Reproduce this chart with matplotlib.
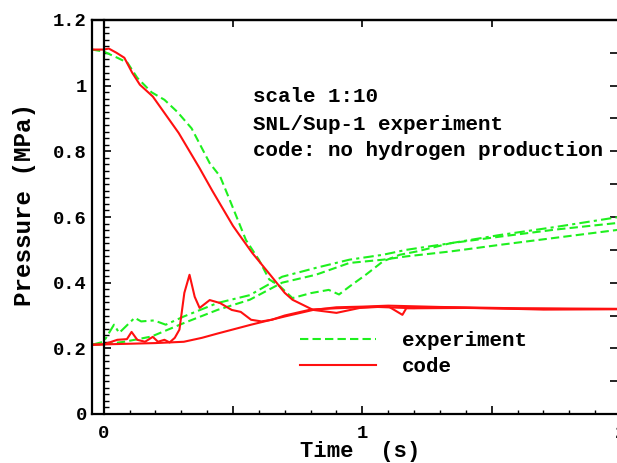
import matplotlib
matplotlib.use("Agg")
import matplotlib.pyplot as plt
from matplotlib.ticker import FixedLocator, MultipleLocator, FuncFormatter
from matplotlib.lines import Line2D

# ---- data (time in s, pressure in MPa) ----
exp_fall_t = [-0.045, 0.0, 0.053, 0.092, 0.13, 0.185, 0.235, 0.285, 0.34, 0.41, 0.45, 0.487, 0.55,
              0.60, 0.64, 0.68, 0.73, 0.80, 0.87, 0.91, 0.95, 1.015, 1.08, 1.145, 1.21, 1.34, 1.53,
              1.75, 2.0]
exp_fall_p = [1.11, 1.104, 1.085, 1.07, 1.024, 0.98, 0.957, 0.92, 0.87, 0.764, 0.724, 0.653, 0.53,
              0.47, 0.41, 0.39, 0.353, 0.368, 0.378, 0.364, 0.388, 0.425, 0.465, 0.485, 0.495, 0.52,
              0.54, 0.562, 0.583]

exp_rise1_t = [-0.045, 0.0, 0.04, 0.06, 0.12, 0.145, 0.195, 0.24, 0.31, 0.44, 0.565, 0.69, 0.82,
               0.95, 1.08, 1.17, 1.34, 1.53, 1.75, 2.0]
exp_rise1_p = [0.211, 0.22, 0.272, 0.247, 0.293, 0.282, 0.285, 0.272, 0.297, 0.338, 0.362, 0.418,
               0.445, 0.47, 0.485, 0.50, 0.52, 0.545, 0.57, 0.601]

exp_rise2_t = [-0.045, 0.0, 0.08, 0.185, 0.31, 0.44, 0.565, 0.69, 0.82, 0.95, 1.08, 1.17, 1.34,
               1.53, 1.75, 2.0]
exp_rise2_p = [0.211, 0.212, 0.22, 0.236, 0.277, 0.317, 0.348, 0.40, 0.424, 0.46, 0.47, 0.48,
               0.495, 0.515, 0.537, 0.562]

code_fall_t = [-0.045, 0.0, 0.02, 0.05, 0.08, 0.11, 0.14, 0.19, 0.29, 0.37, 0.42, 0.50, 0.525,
               0.575, 0.65, 0.70, 0.73, 0.81, 0.90, 0.99, 1.06, 1.2, 1.4, 1.6, 1.8, 2.0]
code_fall_p = [1.11, 1.11, 1.113, 1.10, 1.085, 1.04, 1.003, 0.967, 0.856, 0.75, 0.68, 0.573,
               0.545, 0.49, 0.418, 0.369, 0.348, 0.317, 0.308, 0.323, 0.326, 0.322, 0.323, 0.321,
               0.320, 0.320]

code_spike_t = [-0.045, 0.0, 0.053, 0.09, 0.108, 0.13, 0.16, 0.19, 0.21, 0.235, 0.255, 0.275,
                0.293, 0.312, 0.332, 0.352, 0.371, 0.41, 0.45, 0.495, 0.53, 0.57, 0.61, 0.65,
                0.70, 0.80, 0.90, 1.0, 1.1, 1.155, 1.17, 1.3, 1.5, 1.7, 2.0]
code_spike_p = [0.211, 0.212, 0.226, 0.228, 0.25, 0.226, 0.22, 0.235, 0.22, 0.226, 0.218, 0.232,
                0.257, 0.369, 0.424, 0.357, 0.323, 0.347, 0.338, 0.317, 0.311, 0.287, 0.282,
                0.287, 0.30, 0.318, 0.322, 0.325, 0.328, 0.302, 0.322, 0.325, 0.322, 0.318, 0.319]

code_rise_t = [-0.045, 0.0, 0.1, 0.2, 0.31, 0.38, 0.44, 0.57, 0.70, 0.81, 0.9, 1.0, 1.1, 1.3, 1.6,
               2.0]
code_rise_p = [0.211, 0.212, 0.214, 0.216, 0.22, 0.232, 0.245, 0.272, 0.297, 0.317, 0.325, 0.327,
               0.33, 0.326, 0.322, 0.32]

x_labels = {0: "0", 1: "1", 2: "2"}
y_labels = ["0", "0.2", "0.4", "0.6", "0.8", "1", "1.2"]

GREEN = "#1ef01e"
RED = "#ff1010"
FONT = ["Liberation Mono", "DejaVu Sans Mono"]

W, H = 617, 463
L, R, T, B = 92, 621, 20, 414   # axes box in pixels (right edge lies just past the image)


def fx(px):
    return (px - L) / (R - L)


def fy(py):
    return (B - py) / (B - T)


fig = plt.figure(figsize=(W / 100, H / 100), dpi=100)
ax = fig.add_axes([L / W, 1 - B / H, (R - L) / W, (B - T) / H])

lw = 1.5
ax.plot(exp_fall_t, exp_fall_p, color=GREEN, lw=lw, dashes=(4, 2), label="experiment")
ax.plot(exp_rise1_t, exp_rise1_p, color=GREEN, lw=lw, dashes=(5, 2, 1.5, 2))
ax.plot(exp_rise2_t, exp_rise2_p, color=GREEN, lw=lw, dashes=(4, 2))
ax.plot(code_fall_t, code_fall_p, color=RED, lw=lw, label="code")
ax.plot(code_spike_t, code_spike_p, color=RED, lw=lw)
ax.plot(code_rise_t, code_rise_p, color=RED, lw=lw)

ax.set_xlim(-0.045, 2.0)
ax.set_ylim(0, 1.2)

# inner y axis at t = 0, outer frame line on the left
ax.spines["left"].set_position(("data", 0))
for s in ax.spines.values():
    s.set_linewidth(1.6)
ax.add_line(Line2D([0, 0], [0, 1], transform=ax.transAxes, color="black", lw=1.6, clip_on=False))

ax.yaxis.set_major_locator(FixedLocator([0, 0.2, 0.4, 0.6, 0.8, 1.0, 1.2]))
ax.yaxis.set_minor_locator(MultipleLocator(0.02))
ax.set_yticklabels(y_labels)
ax.tick_params(axis="y", which="major", direction="in", length=5, width=1.2, pad=12,
               labelsize=13.5)
ax.tick_params(axis="y", which="minor", direction="in", length=3.5, width=1.0)

ax.xaxis.set_major_locator(FixedLocator([0, 0.5, 1.0, 1.5, 2.0]))
ax.xaxis.set_minor_locator(MultipleLocator(0.1))
ax.xaxis.set_major_formatter(FuncFormatter(
    lambda v, p: x_labels.get(int(round(v)), "") if abs(v - round(v)) < 1e-6 else ""))
ax.tick_params(axis="x", which="major", direction="in", length=6, width=1.2, pad=8,
               labelsize=13.5)
ax.tick_params(axis="x", which="minor", direction="in", length=3, width=1.0)

for lab in ax.get_xticklabels() + ax.get_yticklabels():
    lab.set_fontfamily(FONT)
    lab.set_fontweight("bold")

# right-hand ticks every 0.1, top ticks every 0.5
secy = ax.secondary_yaxis("right")
secy.yaxis.set_major_locator(MultipleLocator(0.1))
secy.tick_params(direction="in", length=8, width=1.2, labelright=False)
secy.spines["right"].set_linewidth(1.6)
secx = ax.secondary_xaxis("top")
secx.xaxis.set_major_locator(FixedLocator([0.5, 1.0, 1.5]))
secx.tick_params(direction="in", length=5, width=1.2, labeltop=False)
secx.spines["top"].set_linewidth(1.6)

ax.set_xlabel("Time  (s)", fontfamily=FONT, fontweight="bold", fontsize=16)
ax.xaxis.set_label_coords(fx(360), fy(441))
ax.set_ylabel("Pressure (MPa)", fontfamily=FONT, fontweight="bold", fontsize=17.5)
ax.yaxis.set_label_coords(fx(36), fy(205))

txt_kw = dict(transform=ax.transAxes, fontfamily=FONT, fontweight="bold", fontsize=15,
              va="center", ha="left")
ax.text(fx(253), fy(97), "scale 1:10", **txt_kw)
ax.text(fx(253), fy(124), "SNL/Sup-1 experiment", **txt_kw)
ax.text(fx(253), fy(150), "code: no hydrogen production", **txt_kw)

leg = ax.legend(loc="upper left", bbox_to_anchor=(fx(300), fy(331)),
                frameon=False, handlelength=3.65, handletextpad=1.25, labelspacing=0.35,
                borderaxespad=0, borderpad=0,
                prop={"family": FONT, "weight": "bold", "size": 15})

fig.savefig("out.png", dpi=100)
